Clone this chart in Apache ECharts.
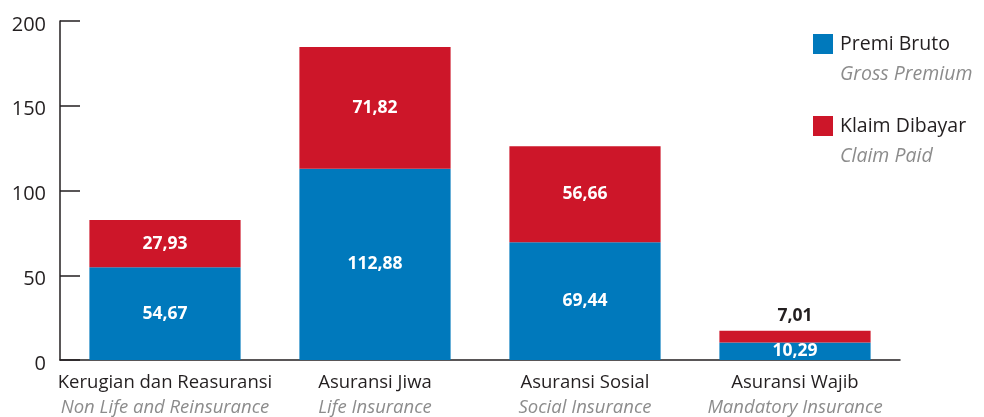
<!DOCTYPE html>
<html>
<head>
<meta charset="utf-8">
<script src="https://cdn.jsdelivr.net/npm/echarts@6/dist/echarts.min.js"></script>
<style>
  html, body { margin: 0; padding: 0; background: #fff; }
  #chart { width: 984px; height: 417px; }
</style>
</head>
<body>
<div id="chart"></div>
<script>
var categories = ['Kerugian dan Reasuransi', 'Asuransi Jiwa', 'Asuransi Sosial', 'Asuransi Wajib'];
var categoriesEn = ['Non Life and Reinsurance', 'Life Insurance', 'Social Insurance', 'Mandatory Insurance'];
var premiBruto = [54.67, 112.88, 69.44, 10.29];
var klaimDibayar = [27.93, 71.82, 56.66, 7.01];
var yTicks = [0, 50, 100, 150, 200];

var DARK = '#231f20';
var GREY = '#8c8c8c';
var BLUE = '#0079bc';
var RED = '#cd1629';
var FONT = '"Open Sans", sans-serif';

function fmt(v) {
  return String(v.toFixed(2)).replace('.', ',');
}

// thin segment label goes above the bar
var klaimData = klaimDibayar.map(function (v, i) {
  if (v < 10) {
    return { value: v, label: { position: 'top', distance: 6, color: DARK } };
  }
  return v;
});

function legendItem(name, sub, top) {
  return {
    data: [name],
    orient: 'vertical',
    left: 808,
    top: top,
    itemWidth: 20,
    itemHeight: 20,
    itemGap: 0,
    icon: 'rect',
    selectedMode: false,
    formatter: function (n) { return '{a|' + n + '}\n{b|' + sub + '}'; },
    textStyle: {
      padding: [30, 0, 0, 2],
      rich: {
        a: { fontFamily: FONT, fontSize: 19.5, color: DARK, lineHeight: 30 },
        b: { fontFamily: FONT, fontSize: 19.5, color: GREY, fontStyle: 'italic', lineHeight: 30 }
      }
    }
  };
}

var myChart = echarts.init(document.getElementById('chart'));
var option = {
  animation: false,
  textStyle: { fontFamily: FONT },
  legend: [
    legendItem('Premi Bruto', 'Gross Premium', 29),
    legendItem('Klaim Dibayar', 'Claim Paid', 111)
  ],
  grid: { left: 60, right: 84, top: 21, bottom: 57, containLabel: false },
  xAxis: {
    type: 'category',
    data: categories,
    axisLine: { lineStyle: { color: DARK, width: 1.5 } },
    axisTick: { inside: true, length: 7, lineStyle: { color: DARK, width: 1.5 } },
    axisLabel: {
      interval: 0,
      margin: 10,
      formatter: function (v, i) {
        return '{a|' + v + '}\n{b|' + categoriesEn[i] + '}';
      },
      rich: {
        a: { fontFamily: FONT, fontSize: 18.5, color: DARK, lineHeight: 25 },
        b: { fontFamily: FONT, fontSize: 18.5, color: GREY, fontStyle: 'italic', lineHeight: 25 }
      }
    }
  },
  yAxis: {
    type: 'value',
    min: yTicks[0],
    max: yTicks[yTicks.length - 1],
    interval: 50,
    splitLine: { show: false },
    axisLine: { show: true, lineStyle: { color: DARK, width: 1.5 } },
    axisTick: { show: true, inside: true, length: 20, lineStyle: { color: DARK, width: 1.5 } },
    // labels sit a little below their ticks
    axisLabel: {
      fontFamily: FONT, fontSize: 20, color: DARK, margin: 14,
      verticalAlign: 'top', lineHeight: 8
    }
  },
  series: [
    {
      name: 'Premi Bruto',
      type: 'bar',
      stack: 'total',
      barWidth: '72%',
      itemStyle: { color: BLUE },
      label: {
        show: true,
        position: 'inside',
        color: '#fff',
        fontFamily: FONT,
        fontWeight: 'bold',
        fontSize: 17.5,
        formatter: function (p) { return fmt(p.value); }
      },
      data: premiBruto
    },
    {
      name: 'Klaim Dibayar',
      type: 'bar',
      stack: 'total',
      barWidth: '72%',
      itemStyle: { color: RED },
      label: {
        show: true,
        position: 'inside',
        color: '#fff',
        fontFamily: FONT,
        fontWeight: 'bold',
        fontSize: 17.5,
        formatter: function (p) { return fmt(p.value); }
      },
      data: klaimData
    }
  ]
};
myChart.setOption(option);
window.addEventListener('resize', function () {
  myChart.resize();
});
</script>
</body>
</html>
